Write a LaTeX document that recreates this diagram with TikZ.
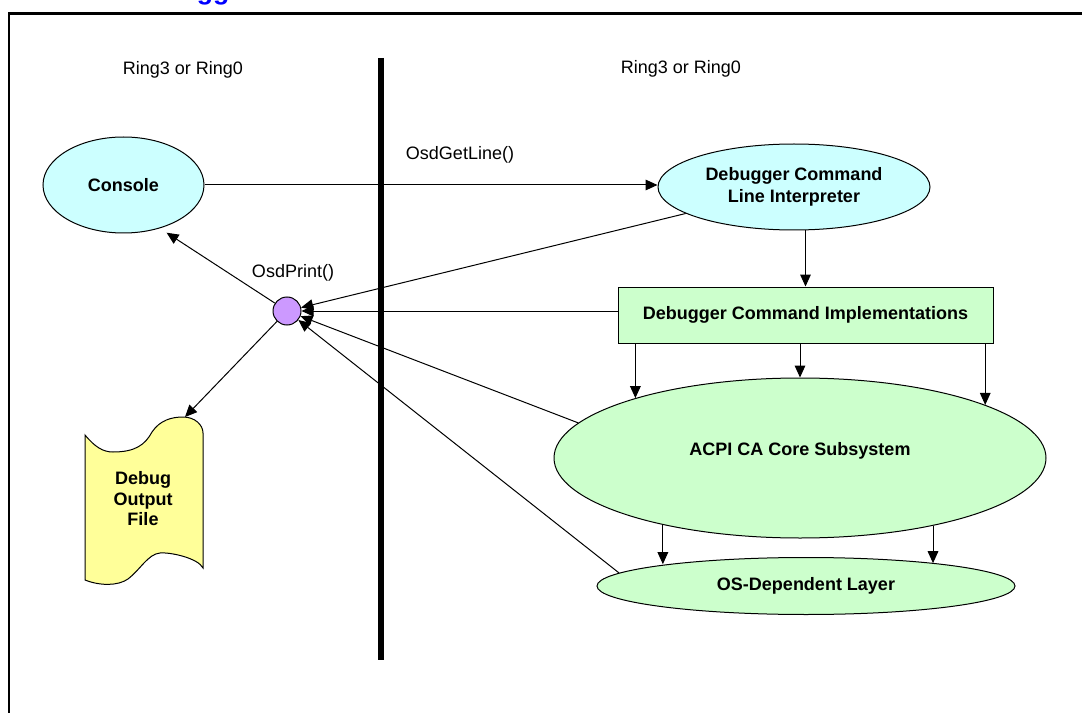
\documentclass[tikz,border=0pt]{standalone}
\usepackage{fontspec}
\setmainfont{Liberation Sans}
\usetikzlibrary{shapes.geometric,arrows.meta}
\definecolor{cyanfill}{HTML}{CCFFFF}
\definecolor{greenfill}{HTML}{CCFFCC}
\definecolor{purplefill}{HTML}{CC99FF}
\definecolor{yellowfill}{HTML}{FFFF99}
\definecolor{titleblue}{HTML}{0000FF}
\begin{document}
\begin{tikzpicture}[x=0.75pt,y=-0.75pt,
  lbl/.style={font=\fontsize{13.5pt}{16pt}\selectfont, inner sep=0pt},
  blbl/.style={font=\fontsize{13.5pt}{16pt}\selectfont\bfseries, align=center, inner sep=0pt},
  oval/.style={ellipse, draw, line width=0.75pt, inner sep=0pt},
  conn/.style={line width=0.75pt, -{Triangle[length=9pt,width=8pt]}},
]
\useasboundingbox (0,0) rectangle (1082,713);
\fill[white] (0,0) rectangle (1082,713);

% cut-off title
\node[anchor=base west, inner sep=0pt, text=titleblue, font=\fontsize{20pt}{24pt}\selectfont\bfseries] (title) at (130,-0.5) {Debugger};

% frame
\draw[line width=1.8pt] (9,713) -- (9,13.5) -- (1082,13.5);

% divider
\draw[line width=3.9pt] (381,58) -- (381,660);

% ring labels
\node[lbl] (ringL) at (183,70) {Ring3 or Ring0};
\node[lbl] (ringR) at (681,69) {Ring3 or Ring0};

% nodes
\node[oval, fill=cyanfill, minimum width=120.75pt, minimum height=72pt, blbl] (console) at (123.5,185) {Console};
\node[oval, fill=cyanfill, minimum width=204pt, minimum height=64.5pt, blbl] (dcli) at (794,187) {Debugger Command\\Line Interpreter};
\node[draw, line width=0.75pt, fill=greenfill, minimum width=281.25pt, minimum height=42pt, blbl] (dci) at (805.5,315) {Debugger Command Implementations};
\node[oval, fill=greenfill, minimum width=369pt, minimum height=120pt] (acpi) at (800,458) {};
\node[blbl] (acpilbl) at (800,451) {ACPI CA Core Subsystem};
\node[oval, fill=greenfill, minimum width=313.5pt, minimum height=42.75pt, blbl] (osdl) at (806,586) {OS-Dependent Layer};
\node[circle, draw, line width=0.75pt, fill=purplefill, minimum size=21pt, inner sep=0pt] (circ) at (287,311) {};

% debug output file (tape shape)
\draw[line width=0.75pt, fill=yellowfill]
  (85,435) .. controls (95,447) and (103,452) .. (113,452)
  .. controls (135,452) and (145,445) .. (152,432)
  .. controls (160,420) and (172,417) .. (183,417)
  .. controls (195,417) and (203,425) .. (203,433)
  -- (203,568)
  .. controls (198,558) and (170,552) .. (160,553)
  .. controls (148,554) and (140,570) .. (128,579)
  .. controls (118,586) and (100,586) .. (85,580)
  -- cycle;
\coordinate (dbgtop) at (185,417);
\node[blbl, font=\fontsize{13.5pt}{15.4pt}\selectfont\bfseries] (dbglbl) at (143,499) {Debug\\Output\\File};

% labels
\node[lbl] (getline) at (460,155) {OsdGetLine()};
\node[lbl] (print) at (293,273) {OsdPrint()};

% connectors
\draw[conn] (console.east) -- (dcli.west |- console.east);
\draw[conn] (dci.north |- dcli.south) -- (dci.north);
\draw[conn] (acpi.160.4 |- dci.south) -- (acpi.160.4);
\draw[conn] (acpi.north |- dci.south) -- (acpi.north);
\draw[conn] (acpi.16.1 |- dci.south) -- (acpi.16.1);
\draw[conn] (acpi.206.4) -- (acpi.206.4 |- osdl.171.5);
\draw[conn] (acpi.333.16) -- (acpi.333.16 |- osdl.10.09);

\draw[conn] (dcli) -- (circ);
\draw[conn] (dci.west |- circ) -- (circ);
\draw[conn] (acpi.171.3) -- (circ);
\draw[conn] (osdl.176) -- (circ);

\draw[conn, shorten >=6pt] (circ) -- (console.-50);
\draw[conn] (circ) -- (dbgtop);
\end{tikzpicture}
\end{document}
